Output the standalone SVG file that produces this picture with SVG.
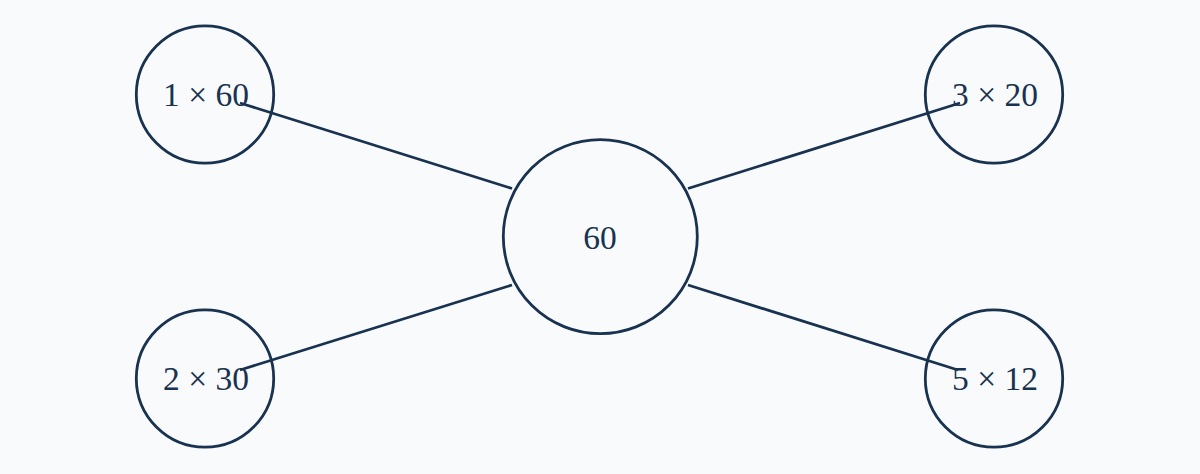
<svg xmlns="http://www.w3.org/2000/svg" width="1200" height="474" viewBox="0 0 1200 474">
<style>
.node{fill:none;stroke:#18324f;stroke-width:2.8}
.lbl{font-family:"Liberation Serif","Times New Roman",serif;font-size:33.5px;fill:#18324f;text-anchor:middle}
.edge{stroke:#18324f;stroke-width:2.8;fill:none}
</style>
<rect width="1200" height="474" fill="#f8fafc"/>
<g id="connectors">
<line class="edge" x1="512" y1="188.5" x2="240" y2="103"/>
<line class="edge" x1="688" y1="188.5" x2="960" y2="103"/>
<line class="edge" x1="512" y1="285" x2="240" y2="370"/>
<line class="edge" x1="688" y1="285" x2="958" y2="370"/>
</g>
<g id="center">
<circle class="node" cx="600.3" cy="236.7" r="97"/>
<text class="lbl" x="600" y="248.5">60</text>
</g>
<g id="n1x60">
<circle class="node" cx="205" cy="94.5" r="68.7"/>
<text class="lbl" x="206" y="106">1 × 60</text>
</g>
<g id="n3x20">
<circle class="node" cx="994" cy="94.5" r="68.7"/>
<text class="lbl" x="995" y="106">3 × 20</text>
</g>
<g id="n2x30">
<circle class="node" cx="205" cy="378.5" r="68.7"/>
<text class="lbl" x="206" y="390">2 × 30</text>
</g>
<g id="n5x12">
<circle class="node" cx="994" cy="378.5" r="68.7"/>
<text class="lbl" x="995" y="390">5 × 12</text>
</g>
</svg>
